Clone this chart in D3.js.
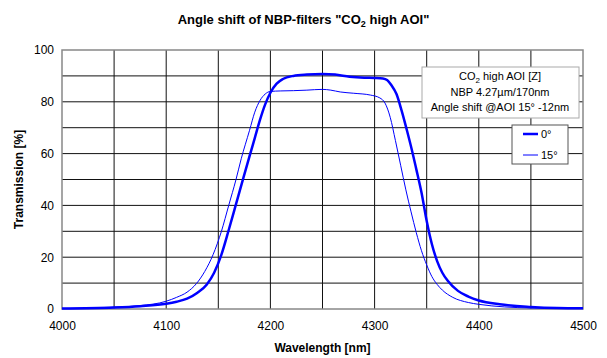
<!DOCTYPE html>
<html>
<head>
<meta charset="utf-8">
<script src="https://cdn.jsdelivr.net/npm/d3@7"></script>
<style>
  body { margin: 0; background: #fff; }
  text { font-family: "Liberation Sans", Arial, sans-serif; }
</style>
</head>
<body>
<div id="app"></div>
<script>
// Wavelength [nm] and transmission [%]
const wl0 = [4000, 4050, 4075, 4100, 4110, 4120, 4130, 4139, 4146, 4153, 4160, 4167, 4174, 4180, 4185, 4190, 4195, 4200, 4206, 4212, 4222, 4235, 4250, 4262, 4276, 4290, 4300, 4308, 4312, 4316, 4321, 4326, 4331, 4336, 4340, 4345, 4350, 4355, 4360, 4365, 4370, 4380, 4390, 4400, 4420, 4450, 4475, 4500];
const t0  = [0.2, 0.6, 1.1, 2.0, 2.8, 4.0, 6.3, 9.5, 14, 21, 30.5, 40.5, 50.5, 59, 66, 73, 79, 83.5, 87, 88.8, 90, 90.5, 90.7, 90.5, 89.7, 89.3, 89.2, 89, 88.4, 86.5, 83, 76.5, 69, 61, 54, 45, 34, 25, 18.5, 14, 11, 7, 4.8, 3.3, 1.8, 0.8, 0.4, 0.3];

const wl15 = [4000, 4050, 4075, 4100, 4110, 4120, 4129, 4137, 4145, 4153, 4160, 4167, 4172, 4180, 4185, 4190, 4195, 4200, 4210, 4222, 4235, 4250, 4258, 4267, 4280, 4296, 4305, 4310, 4315, 4320, 4325, 4330, 4335, 4340, 4345, 4350, 4355, 4360, 4365, 4375, 4390, 4400, 4425, 4450, 4500];
const t15  = [0.2, 0.7, 1.3, 3.0, 4.5, 6.5, 9.8, 14.5, 21, 30, 40, 50, 58, 69, 76, 80.5, 83, 84, 84.2, 84.3, 84.5, 84.8, 84.5, 83.8, 83.3, 82.6, 81.5, 79.5, 74, 65, 55.5, 46, 37.5, 29.5, 22.5, 17, 12.5, 9.5, 7.3, 4.5, 2.5, 1.8, 0.8, 0.4, 0.2];

const xTicks = [4000, 4100, 4200, 4300, 4400, 4500];
const yTicks = [0, 20, 40, 60, 80, 100];
const infoLines = ["high AOI [Z]", "NBP 4.27µm/170nm", "Angle shift @AOI 15° -12nm"];
const legendNames = ["0°", "15°"];

const W = 607, H = 358;
const margin = {top: 50, right: 24, bottom: 49, left: 62};
const width = W - margin.left - margin.right;
const height = H - margin.top - margin.bottom;

const svg = d3.select('#app').append('svg')
  .attr('width', W).attr('height', H);

const g = svg.append('g')
  .attr('transform', `translate(${margin.left},${margin.top})`);

const x = d3.scaleLinear().domain([4000, 4500]).range([0, width]);
const y = d3.scaleLinear().domain([0, 100]).range([height, 0]);

// grid
g.append('g').selectAll('line')
  .data(d3.range(4050, 4500, 50))
  .join('line')
  .attr('x1', d => x(d)).attr('x2', d => x(d))
  .attr('y1', 0).attr('y2', height)
  .attr('stroke', '#111').attr('stroke-width', 1);

g.append('g').selectAll('line')
  .data(d3.range(10, 100, 10))
  .join('line')
  .attr('y1', d => y(d)).attr('y2', d => y(d))
  .attr('x1', 0).attr('x2', width)
  .attr('stroke', '#111').attr('stroke-width', 1);

// frame
g.append('rect')
  .attr('width', width).attr('height', height)
  .attr('fill', 'none').attr('stroke', '#888').attr('stroke-width', 1.5);

// axes
const xAxis = g.append('g')
  .attr('transform', `translate(0,${height})`)
  .call(d3.axisBottom(x).tickValues(xTicks).tickFormat(d3.format('d')).tickSize(0).tickPadding(12));
const yAxis = g.append('g')
  .call(d3.axisLeft(y).tickValues(yTicks).tickFormat(d3.format('d')).tickSize(0).tickPadding(8));
[xAxis, yAxis].forEach(a => {
  a.select('.domain').remove();
  a.selectAll('text').attr('font-size', 12).attr('fill', '#000')
    .attr('font-family', '"Liberation Sans", Arial, sans-serif');
});

// curves
const line = d3.line().curve(d3.curveMonotoneX)
  .x(d => x(d[0])).y(d => y(d[1]));

g.append('path')
  .datum(wl15.map((w, i) => [w, t15[i]]))
  .attr('d', line).attr('fill', 'none')
  .attr('stroke', '#0000ff').attr('stroke-width', 1);

g.append('path')
  .datum(wl0.map((w, i) => [w, t0[i]]))
  .attr('d', line).attr('fill', 'none')
  .attr('stroke', '#0000ff').attr('stroke-width', 2.5);

// info box
const info = svg.append('g');
info.append('rect')
  .attr('x', 422).attr('y', 67).attr('width', 157).attr('height', 51)
  .attr('fill', '#fff').attr('stroke', '#aaa').attr('stroke-width', 1);
const t1 = info.append('text')
  .attr('x', 500).attr('y', 80).attr('text-anchor', 'middle').attr('font-size', 11);
t1.append('tspan').text('CO');
t1.append('tspan').attr('font-size', 8).attr('dy', 3).text('2');
t1.append('tspan').attr('dy', -3).text(' ' + infoLines[0]);
info.selectAll('text.l')
  .data(infoLines.slice(1))
  .join('text').attr('class', 'l')
  .attr('x', 500).attr('y', (d, i) => 96 + i * 15)
  .attr('text-anchor', 'middle').attr('font-size', 11)
  .text(d => d);

// legend
const leg = svg.append('g');
leg.append('rect')
  .attr('x', 512).attr('y', 125).attr('width', 56).attr('height', 39)
  .attr('fill', '#fff').attr('stroke', '#555').attr('stroke-width', 1);
legendNames.forEach((name, i) => {
  const yy = 134 + i * 21;
  leg.append('line')
    .attr('x1', 523).attr('x2', 538).attr('y1', yy).attr('y2', yy)
    .attr('stroke', '#0000ff').attr('stroke-width', i === 0 ? 2.5 : 1);
  leg.append('text')
    .attr('x', 541).attr('y', yy + 4).attr('font-size', 11).text(name);
});

// title
const title = svg.append('text')
  .attr('x', W / 2).attr('y', 24).attr('text-anchor', 'middle')
  .attr('font-size', 13).attr('font-weight', 'bold');
title.append('tspan').text('Angle shift of NBP-filters "CO');
title.append('tspan').attr('font-size', 9).attr('dy', 3).text('2');
title.append('tspan').attr('dy', -3).text(' high AOI"');

// axis titles
svg.append('text')
  .attr('x', margin.left + width / 2).attr('y', 352)
  .attr('text-anchor', 'middle').attr('font-size', 12).attr('font-weight', 'bold')
  .text('Wavelength [nm]');

svg.append('text')
  .attr('transform', `translate(23,${margin.top + height / 2}) rotate(-90)`)
  .attr('text-anchor', 'middle').attr('font-size', 12).attr('font-weight', 'bold')
  .text('Transmission [%]');
</script>
</body>
</html>
